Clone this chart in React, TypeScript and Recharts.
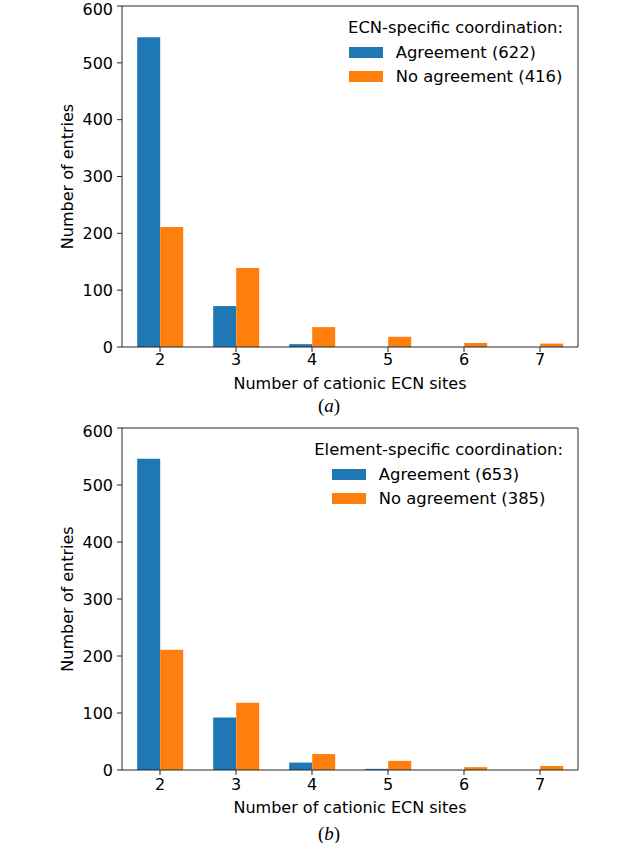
import { Bar, BarChart, XAxis, YAxis, Legend, CartesianGrid } from "recharts";

const sites = ["2", "3", "4", "5", "6", "7"];
const yTicks = [0, 100, 200, 300, 400, 500, 600];

// (a) ECN-specific coordination
const ecnAgreement = [545, 72, 5, 0, 0, 0];
const ecnNoAgreement = [211, 139, 35, 18, 7, 6];

// (b) Element-specific coordination
const elemAgreement = [546, 92, 13, 2, 0, 0];
const elemNoAgreement = [211, 118, 28, 16, 5, 7];

const BLUE = "#1f77b4";
const ORANGE = "#ff7f0e";
const FONT = "'DejaVu Sans', sans-serif";
const AXIS = "#262626";

const sum = (arr: number[]) => arr.reduce((a, b) => a + b, 0);

interface LegendProps {
  title: string;
  entries: { name: string; color: string }[];
}

function HistLegend({ title, entries }: LegendProps) {
  return (
    <div
      style={{
        display: "flex",
        flexDirection: "column",
        alignItems: "center",
        fontFamily: FONT,
        fontSize: 16.4,
        color: "#000",
        whiteSpace: "nowrap",
      }}
    >
      <div style={{ lineHeight: "24px" }}>{title}</div>
      <div>
        {entries.map((e) => (
          <div key={e.name} style={{ display: "flex", alignItems: "center", height: 24 }}>
            <span style={{ width: 34, height: 11, background: e.color, marginRight: 13 }} />
            <span>{e.name}</span>
          </div>
        ))}
      </div>
    </div>
  );
}

interface PanelProps {
  top: number;
  height: number;
  agreement: number[];
  noAgreement: number[];
  legendTitle: string;
  tickMargin: number;
  titleY: number;
  tag: string;
  tagY: number;
}

function Panel({
  top,
  height,
  agreement,
  noAgreement,
  legendTitle,
  tickMargin,
  titleY,
  tag,
  tagY,
}: PanelProps) {
  const data = sites.map((site, i) => ({
    site,
    agree: agreement[i],
    noAgree: noAgreement[i],
  }));
  const agreeName = `Agreement (${sum(agreement)})`;
  const noAgreeName = `No agreement (${sum(noAgreement)})`;

  return (
    <div style={{ position: "absolute", left: 0, top, width: 640, height }}>
      <BarChart
        width={640}
        height={height}
        data={data}
        margin={{ top: 6, right: 62, bottom: 43, left: 62 }}
        barCategoryGap="20%"
        barGap={0}
        style={{ fontFamily: FONT }}
      >
        {/* top and right spines */}
        <CartesianGrid
          stroke={AXIS}
          horizontalCoordinatesGenerator={({ offset }: any) => [offset.top]}
          verticalCoordinatesGenerator={({ offset }: any) => [offset.left + offset.width]}
        />
        <XAxis
          dataKey="site"
          height={30}
          stroke={AXIS}
          tickSize={5}
          tickMargin={tickMargin}
          tick={{ fill: "#000", fontSize: 16 }}
        />
        <YAxis
          width={60}
          domain={[0, 600]}
          ticks={yTicks}
          stroke={AXIS}
          tickSize={5}
          tickMargin={4}
          tick={{ fill: "#000", fontSize: 16 }}
          label={{
            value: "Number of entries",
            angle: -90,
            position: "insideLeft",
            offset: 5,
            style: { textAnchor: "middle", fill: "#000", fontSize: 16 },
          }}
        />
        <Legend
          layout="vertical"
          align="center"
          verticalAlign="middle"
          wrapperStyle={{ top: 16, left: "auto", right: 77, width: "auto", height: "auto" }}
          content={() => (
            <HistLegend
              title={legendTitle}
              entries={[
                { name: agreeName, color: BLUE },
                { name: noAgreeName, color: ORANGE },
              ]}
            />
          )}
        />
        <Bar dataKey="agree" name={agreeName} fill={BLUE} isAnimationActive={false} />
        <Bar dataKey="noAgree" name={noAgreeName} fill={ORANGE} isAnimationActive={false} />
      </BarChart>
      <div
        style={{
          position: "absolute",
          left: 122,
          width: 456,
          top: titleY - 10,
          textAlign: "center",
          fontFamily: FONT,
          fontSize: 16,
          lineHeight: "20px",
          color: "#000",
        }}
      >
        Number of cationic ECN sites
      </div>
      <div
        style={{
          position: "absolute",
          left: 279,
          width: 100,
          top: tagY - 12,
          textAlign: "center",
          fontFamily: "'Liberation Serif', serif",
          fontSize: 19,
          lineHeight: "24px",
          color: "#000",
        }}
      >
        (<i>{tag}</i>)
      </div>
    </div>
  );
}

export default function App() {
  return (
    <div style={{ position: "absolute", left: 0, top: 0, width: 640, height: 843, background: "#fff" }}>
      <Panel
        top={0}
        height={420}
        agreement={ecnAgreement}
        noAgreement={ecnNoAgreement}
        legendTitle="ECN-specific coordination:"
        tickMargin={2}
        titleY={384}
        tag="a"
        tagY={406}
      />
      <Panel
        top={422}
        height={421}
        agreement={elemAgreement}
        noAgreement={elemNoAgreement}
        legendTitle="Element-specific coordination:"
        tickMargin={4}
        titleY={808 - 422}
        tag="b"
        tagY={834 - 422}
      />
    </div>
  );
}
